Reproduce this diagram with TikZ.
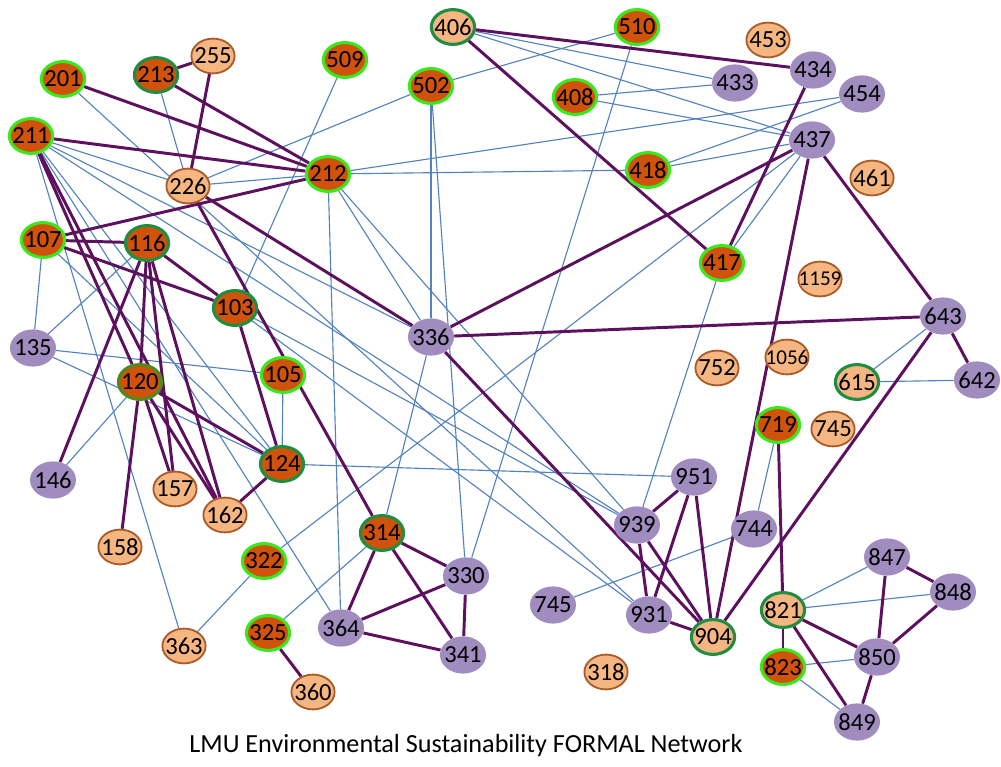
\documentclass[tikz,border=0pt]{standalone}
\usepackage{fontspec}
\setmainfont{Carlito}
\usetikzlibrary{shapes.geometric,backgrounds}
\definecolor{rust}{RGB}{209,82,10}
\definecolor{lime}{RGB}{58,232,30}
\definecolor{forest}{RGB}{32,142,64}
\definecolor{olive}{RGB}{78,138,30}
\definecolor{peach}{RGB}{246,182,130}
\definecolor{umber}{RGB}{170,92,40}
\definecolor{lilac}{RGB}{160,140,190}
\definecolor{plum}{RGB}{92,16,94}
\definecolor{steel}{RGB}{82,130,192}
\newcommand\lab[1]{\makebox[0pt]{#1}}
\tikzset{
  dot/.style={ellipse,inner sep=0pt,minimum width=1.08cm,minimum height=0.87cm,
    font=\fontsize{17.5}{19}\selectfont},
  redg/.style={dot,fill=rust,draw=lime,line width=2.2pt},
  redd/.style={dot,fill=rust,draw=forest,line width=2.2pt},
  redo/.style={dot,fill=rust,draw=olive,line width=2.2pt},
  tan/.style={dot,fill=peach,draw=umber,line width=1.3pt},
  tand/.style={dot,fill=peach,draw=forest,line width=2.2pt},
  lil/.style={dot,fill=lilac,minimum width=1.15cm,minimum height=0.93cm},
  strong/.style={draw=plum,line width=2.1pt},
  weak/.style={draw=steel,line width=0.8pt}
}
\begin{document}
\begin{tikzpicture}[x=0.025cm,y=-0.025cm]
\useasboundingbox (0,0) rectangle (1001,767);

\node[redg] (n201) at (63,79) {\lab{201}};
\node[redd] (n213) at (156,75) {\lab{213}};
\node[tan] (n255) at (213,56) {\lab{255}};
\node[redg] (n509) at (345,60) {\lab{509}};
\node[tand] (n406) at (453,27) {\lab{406}};
\node[redg] (n510) at (637,27) {\lab{510}};
\node[tan] (n453) at (768,40) {\lab{453}};
\node[lil] (n433) at (735,83) {\lab{433}};
\node[lil] (n434) at (813,70) {\lab{434}};
\node[lil] (n454) at (862,94) {\lab{454}};
\node[redg] (n502) at (431,86) {\lab{502}};
\node[redg] (n408) at (575,97) {\lab{408}};
\node[redg] (n211) at (31,136) {\lab{211}};
\node[tan] (n226) at (188,186) {\lab{226}};
\node[redg] (n212) at (328,174) {\lab{212}};
\node[redg] (n418) at (648,170) {\lab{418}};
\node[lil] (n437) at (812,140) {\lab{437}};
\node[tan] (n461) at (872,178) {\lab{461}};
\node[redg] (n107) at (43,240) {\lab{107}};
\node[redd] (n116) at (147,243) {\lab{116}};
\node[redg] (n417) at (722,263) {\lab{417}};
\node[tan,font=\fontsize{15}{17}\selectfont] (n1159) at (820,279) {\lab{1159}};
\node[redd] (n103) at (235,308) {\lab{103}};
\node[lil] (n336) at (431,337) {\lab{336}};
\node[lil] (n643) at (943,316) {\lab{643}};
\node[lil] (n135) at (33,348) {\lab{135}};
\node[redo] (n120) at (140,382) {\lab{120}};
\node[redg] (n105) at (283,375) {\lab{105}};
\node[tan] (n752) at (717,368) {\lab{752}};
\node[tan,font=\fontsize{15}{17}\selectfont] (n1056) at (787,357) {\lab{1056}};
\node[tand] (n615) at (857,382) {\lab{615}};
\node[lil] (n642) at (977,380) {\lab{642}};
\node[redg] (n719) at (778,425) {\lab{719}};
\node[tan] (n745) at (833,429) {\lab{745}};
\node[lil] (n146) at (53,480) {\lab{146}};
\node[redd] (n124) at (282,464) {\lab{124}};
\node[tan] (n157) at (175,489) {\lab{157}};
\node[tan] (n162) at (225,515) {\lab{162}};
\node[tan] (n158) at (120,547) {\lab{158}};
\node[lil] (n951) at (694,477) {\lab{951}};
\node[lil] (n939) at (637,525) {\lab{939}};
\node[lil] (n744) at (754,529) {\lab{744}};
\node[redd] (n314) at (382,533) {\lab{314}};
\node[redg] (n322) at (264,561) {\lab{322}};
\node[lil] (n330) at (466,576) {\lab{330}};
\node[lil] (n745b) at (553,605) {\lab{745}};
\node[lil] (n931) at (649,615) {\lab{931}};
\node[tand] (n904) at (713,637) {\lab{904}};
\node[tand] (n821) at (783,610) {\lab{821}};
\node[lil] (n847) at (887,557) {\lab{847}};
\node[lil] (n848) at (953,592) {\lab{848}};
\node[lil] (n850) at (877,657) {\lab{850}};
\node[redg] (n823) at (783,667) {\lab{823}};
\node[lil] (n849) at (857,722) {\lab{849}};
\node[tan] (n363) at (184,646) {\lab{363}};
\node[redg] (n325) at (268,633) {\lab{325}};
\node[lil] (n364) at (341,628) {\lab{364}};
\node[lil] (n341) at (463,655) {\lab{341}};
\node[tan] (n318) at (606,672) {\lab{318}};
\node[tan] (n360) at (313,692) {\lab{360}};

\node[font=\fontsize{18.6}{21}\selectfont] (title) at (466,746)
  {LMU Environmental Sustainability FORMAL Network};

\begin{scope}[on background layer]
\foreach \a/\b in {213/226,226/212,226/502,211/226,211/336,211/939,211/124,
    211/364,211/363,201/931,107/135,107/124,116/135,116/931,103/509,103/939,
    135/105,135/124,146/120,105/124,124/951,363/322,322/437,325/314,314/336,
    364/212,330/502,330/510,502/510,502/336,212/336,212/939,212/418,212/454,
    418/454,418/437,408/433,408/437,406/433,406/437,437/417,939/417,744/719,
    744/745b,821/847,821/848,823/850,823/849,615/643,615/642}
  \draw[weak] (n\a) -- (n\b);
\foreach \a/\b in {255/213,255/226,201/212,213/212,211/212,107/212,211/120,
    211/162,107/116,107/103,116/103,116/146,116/120,116/157,116/162,120/124,
    120/157,120/162,120/158,124/162,103/124,226/314,226/336,336/437,336/643,
    336/904,406/434,406/417,434/417,437/643,437/904,643/642,643/904,719/821,
    951/939,951/931,951/904,939/931,939/904,931/904,314/330,314/364,314/341,
    364/330,364/341,330/341,325/360,821/823,821/850,821/849,847/848,847/850,
    848/850,850/849}
  \draw[strong] (n\a) -- (n\b);
\end{scope}
\end{tikzpicture}
\end{document}
